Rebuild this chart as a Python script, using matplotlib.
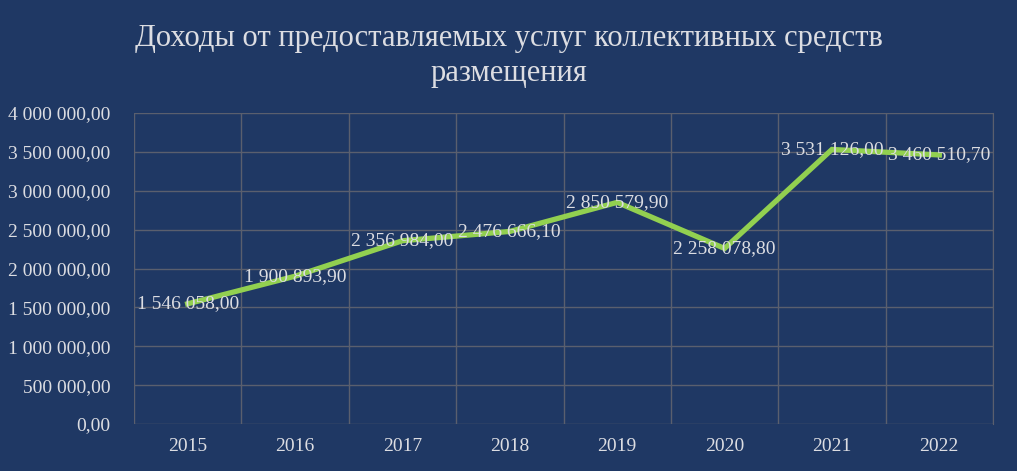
import matplotlib
matplotlib.use("Agg")
import matplotlib.pyplot as plt
from matplotlib.ticker import FuncFormatter

years = ["2015", "2016", "2017", "2018", "2019", "2020", "2021", "2022"]
values = [1546058.00, 1900893.90, 2356984.00, 2476666.10, 2850579.90, 2258078.80, 3531126.00, 3460510.70]
title = "Доходы от предоставляемых услуг коллективных средств\nразмещения"

BG = "#1f3864"
TXT = "#dcdde2"
GRID = "#5a5f6e"
LINE = "#92d050"

plt.rcParams['font.family'] = ['Liberation Serif', 'DejaVu Serif']

def fmt(v):
    s = f"{v:,.2f}"
    return s.replace(",", " ").replace(".", ",")

fig = plt.figure(figsize=(10.17, 4.71), dpi=100, facecolor=BG)
ax = fig.add_axes([134/1017, 1 - 424/471, (993-134)/1017, (424-113)/471], facecolor=BG)

x = list(range(len(years)))
ax.plot(x, values, color=LINE, lw=3.8, solid_joinstyle='miter', zorder=3)
for xi, v in zip(x, values):
    ax.text(xi, v, fmt(v), ha='center', va='center', color=TXT, fontsize=14, zorder=4)

ax.set_xlim(-0.5, len(years) - 0.5)
ax.set_ylim(0, 4000000)
ax.set_yticks([i * 500000 for i in range(9)])
ax.yaxis.set_major_formatter(FuncFormatter(lambda v, p: fmt(v)))
ax.set_xticks(x)
ax.set_xticklabels(years)
ax.set_xticks([i - 0.5 for i in range(len(years) + 1)], minor=True)
ax.grid(True, which='major', axis='y', color=GRID, lw=1)
ax.grid(True, which='minor', axis='x', color=GRID, lw=1)
ax.tick_params(which='both', length=0, colors=TXT, labelsize=14)
ax.tick_params(axis='x', pad=10)
ax.tick_params(axis='y', pad=17)
for s in ax.spines.values():
    s.set_visible(False)
ax.spines['right'].set_visible(True)
ax.spines['right'].set_color(GRID)

fig.text(509/1017, 1 - 56/471, title, ha='center', va='center', color=TXT,
         fontsize=22, linespacing=1.3)

fig.savefig("out.png", dpi=100, facecolor=BG)
